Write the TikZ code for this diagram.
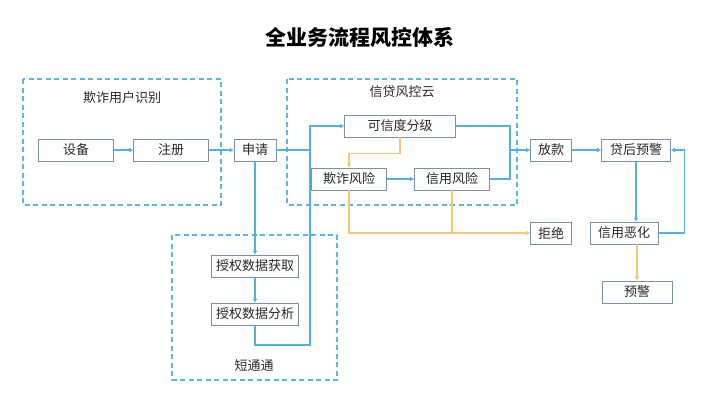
\documentclass[tikz,border=0pt]{standalone}
\usepackage{fontspec}
\setmainfont{Noto Sans CJK SC}
\usetikzlibrary{arrows.meta}
\definecolor{lineblue}{RGB}{80,178,228}
\definecolor{dashblue}{RGB}{88,184,224}
\definecolor{boxgray}{RGB}{125,142,172}
\definecolor{warnorange}{RGB}{244,199,112}
\definecolor{textgray}{RGB}{40,40,40}
\begin{document}
\begin{tikzpicture}[x=1pt, y=-1pt,
		box/.style={draw=boxgray, line width=0.8pt, fill=white, text=textgray, inner sep=0pt, minimum height=22pt, font=\fontsize{13}{13}\selectfont},
		group/.style={draw=dashblue, line width=1.4pt, dash pattern=on 5pt off 3.5pt},
		grouplabel/.style={text=textgray, font=\fontsize{13}{13}\selectfont},
		line/.style={draw=lineblue, line width=1.1pt},
		flow/.style={line, -{Triangle[length=4pt, width=4pt]}},
		warn/.style={draw=warnorange, line width=1.1pt},
		warnflow/.style={warn, -{Triangle[length=4pt, width=4pt]}}]
		\useasboundingbox (0,0) rectangle (720,405);
		% title
		\node[text=black, font=\fontsize{21}{21}\selectfont\bfseries] (title) at (360,37) {全业务流程风控体系};
		% dashed groups
		\draw[group] (23,79) rectangle (221,205);
		\draw[group] (287,79) rectangle (517,205);
		\draw[group] (172,235) rectangle (337,380);
		\node[grouplabel] (fraudid) at (122,98) {欺诈用户识别};
		\node[grouplabel] (cloud) at (402,92) {信贷风控云};
		\node[grouplabel] (short) at (254,365) {短通通};
		% steps
		\node[box, minimum width=75pt] (dev) at (76,150) {设备};
		\node[box, minimum width=75pt] (reg) at (171,150) {注册};
		\node[box, minimum width=42pt] (app) at (255,150) {申请};
		\node[box, minimum width=111pt] (grade) at (400,126) {可信度分级};
		\node[box, minimum width=75pt] (fraud) at (349,179) {欺诈风险};
		\node[box, minimum width=75pt] (credit) at (452,179) {信用风险};
		\node[box, minimum width=41pt] (loan) at (551,150) {放款};
		\node[box, minimum width=69pt] (post) at (636,150) {贷后预警};
		\node[box, minimum width=41pt] (reject) at (551,233) {拒绝};
		\node[box, minimum width=68pt] (worse) at (624,233) {信用恶化};
		\node[box, minimum width=70pt] (alert) at (637,292) {预警};
		\node[box, minimum width=87pt] (get) at (255,266) {授权数据获取};
		\node[box, minimum width=87pt] (ana) at (255,314) {授权数据分析};
		\coordinate (busbot) at (310,345);
		\coordinate (merge) at (510,150);
		% blue flow
		\draw[flow] (dev) -- (reg);
		\draw[flow] (reg) -- (app);
		\draw[line] (app.east) -- (app.east -| busbot);
		\draw[flow] (app) -- (get);
		\draw[flow] (get) -- (ana);
		\draw[flow] (ana.south) |- (busbot) |- (grade.west);
		\draw[flow] (fraud) -- (credit);
		\draw[line] (grade.east) -| (merge);
		\draw[line] (credit.east) -| (merge);
		\draw[flow] (merge) -- (loan);
		\draw[flow] (loan) -- (post);
		\draw[flow] (post.south) -- (post.south |- worse.north);
		\draw[flow] (worse.east) -- ++(26,0) |- (post.east);
		% orange flow
		\draw[warnflow] (grade.south) -- ++(0,16) -| (fraud.north);
		\draw[warnflow] (fraud.south) |- (reject.west);
		\draw[warn] (credit.south) -- (credit.south |- reject.west);
		\draw[warnflow] (alert.north |- worse.south) -- (alert.north);
\end{tikzpicture}
\end{document}
